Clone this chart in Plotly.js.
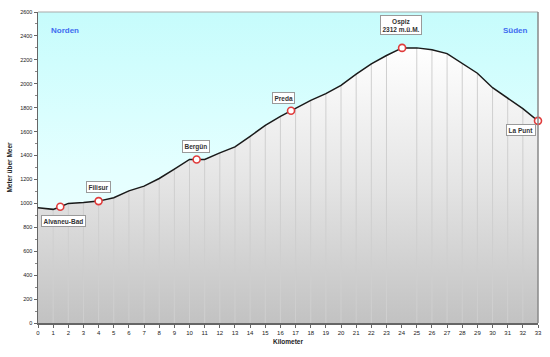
<!DOCTYPE html>
<html><head><meta charset="utf-8">
<script src="https://cdn.plot.ly/plotly-3.0.1.min.js"></script>
<style>html,body{margin:0;padding:0;background:#fff}#c{width:550px;height:357px}</style>
</head><body><div id="c"></div>
<script>
// Elevation profile (km, m above sea level)
const km   = [0, 1, 1.47, 2, 3, 4, 5, 6, 7, 8, 9, 10, 10.47, 11, 12, 13, 14, 15, 16, 16.7, 17, 18, 19, 20, 21, 22, 23, 24.03, 25, 26, 27, 28, 29, 30, 31, 32, 33];
const elev = [963, 950, 972, 1000, 1008, 1019, 1047, 1105, 1144, 1208, 1286, 1367, 1367, 1367, 1422, 1472, 1561, 1652, 1727, 1775, 1797, 1861, 1917, 1986, 2080, 2167, 2236, 2300, 2300, 2285, 2252, 2167, 2088, 1967, 1883, 1792, 1690];
// Stations
const stationNames = ["Alvaneu-Bad", "Filisur", "Bergün", "Preda", "Ospiz<br>2312 m.ü.M.", "La Punt"];
const stationKm    = [1.47, 4, 10.47, 16.7, 24.03, 33];
const stationElev  = [972, 1019, 1367, 1775, 2300, 1690];
// Direction labels
const directions = ["Norden", "Süden"];
const xTicks = Array.from({length: 34}, (_, i) => i);
const yTicks = [0,200,400,600,800,1000,1200,1400,1600,1800,2000,2200,2400,2600];

// label offsets (px) for station boxes
const labelOffsets = [[3,14],[0,-14],[-1,-13],[-8,-13],[-1,-23],[-17,9]];

const FONT = "Liberation Sans, Arial, sans-serif";

// vertical km lines under the profile, from the profile data
const vx = [], vy = [];
km.forEach((k, i) => {
  if (Number.isInteger(k) && k > 0 && k < 33) { vx.push(k, k, null); vy.push(0, elev[i], null); }
});

const traces = [
  { // sky background
    x: [0, 33], y: [2600, 2600], type: 'scatter', mode: 'lines',
    line: {width: 0}, fill: 'tozeroy', hoverinfo: 'skip',
    fillgradient: {type: 'vertical', start: 0, stop: 2600,
      colorscale: [[0, '#f6ffff'], [0.5, '#e4ffff'], [1, '#c6fcfc']]}
  },
  { // terrain fill
    x: km, y: elev, type: 'scatter', mode: 'lines',
    line: {width: 0}, fill: 'tozeroy', hoverinfo: 'skip',
    fillgradient: {type: 'vertical', start: 0, stop: 2300,
      colorscale: [[0, '#c2c2c2'], [0.5, '#e4e4e4'], [1, '#ffffff']]}
  },
  { // vertical km lines
    x: vx, y: vy, type: 'scatter', mode: 'lines',
    line: {color: '#cfcfcf', width: 1}, hoverinfo: 'skip'
  },
  { // profile line
    x: km, y: elev, type: 'scatter', mode: 'lines',
    line: {color: '#1a1a1a', width: 1.5}
  },
  { // stations
    x: stationKm, y: stationElev, type: 'scatter', mode: 'markers', cliponaxis: false,
    marker: {size: 7, color: '#ffffff', line: {color: '#e03c3c', width: 1.6}}
  }
];

const annotations = stationNames.map((n, i) => ({
  x: stationKm[i], y: stationElev[i], text: '<b>' + n + '</b>',
  showarrow: true, arrowcolor: 'rgba(0,0,0,0)', arrowwidth: 0.1,
  ax: labelOffsets[i][0], ay: labelOffsets[i][1],
  bgcolor: '#ffffff', bordercolor: '#9a9a9a', borderwidth: 1, borderpad: 1.5,
  font: {family: FONT, size: 6.5, color: '#333333'}
}));
annotations.push(
  {xref: 'paper', yref: 'paper', x: 0.053, y: 0.94, xanchor: 'center', yanchor: 'middle',
   text: '<b>' + directions[0] + '</b>', showarrow: false,
   font: {family: FONT, size: 8, color: '#3f6cf0'}},
  {xref: 'paper', yref: 'paper', x: 0.954, y: 0.94, xanchor: 'center', yanchor: 'middle',
   text: '<b>' + directions[1] + '</b>', showarrow: false,
   font: {family: FONT, size: 8, color: '#3f6cf0'}}
);

const layout = {
  width: 550, height: 357,
  margin: {l: 38, r: 12, t: 12, b: 34},
  paper_bgcolor: '#ffffff', plot_bgcolor: '#eaffff',
  showlegend: false,
  font: {family: FONT, size: 6, color: '#222'},
  xaxis: {
    range: [0, 33], tickvals: xTicks, ticktext: xTicks.map(String),
    showgrid: false, zeroline: false,
    showline: true, linecolor: '#666', linewidth: 1.5, mirror: false,
    ticks: 'outside', ticklen: 3, tickcolor: '#666',
    tickfont: {family: FONT, size: 6, color: '#222'},
    title: {text: '<b>Kilometer</b>', font: {family: FONT, size: 6.5, color: '#222'}, standoff: 4}
  },
  yaxis: {
    range: [0, 2600], tickvals: yTicks, ticktext: yTicks.map(String),
    showgrid: true, gridcolor: '#b4e6fb', gridwidth: 1, zeroline: false,
    showline: true, linecolor: '#666', linewidth: 1.5,
    ticks: 'outside', ticklen: 3, tickcolor: '#666',
    minor: {dtick: 100, ticks: 'outside', ticklen: 2, tickcolor: '#888', showgrid: false},
    tickfont: {family: FONT, size: 5.5, color: '#222'},
    title: {text: '<b>Meter über Meer</b>', font: {family: FONT, size: 6.5, color: '#222'}, standoff: 7}
  },
  shapes: [
    {type: 'line', xref: 'paper', yref: 'paper', x0: 0, x1: 1, y0: 1, y1: 1, line: {color: '#aaaaaa', width: 1.2}},
    {type: 'line', xref: 'paper', yref: 'paper', x0: 1, x1: 1, y0: 0, y1: 1, line: {color: '#888888', width: 1.5}}
  ],
  annotations: annotations
};

Plotly.newPlot('c', traces, layout, {displayModeBar: false, staticPlot: true});
</script>
</body></html>
